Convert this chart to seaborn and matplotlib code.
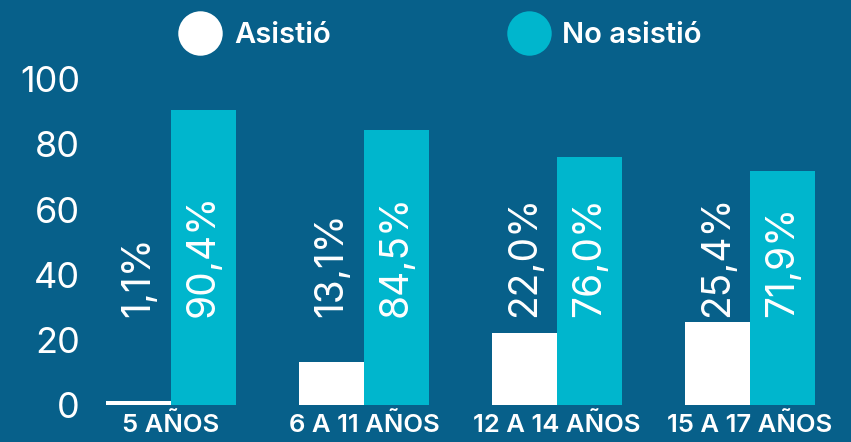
import matplotlib
matplotlib.use("Agg")
import matplotlib.pyplot as plt
from matplotlib.lines import Line2D
import seaborn as sns
import pandas as pd

categorias = ["5 AÑOS", "6 A 11 AÑOS", "12 A 14 AÑOS", "15 A 17 AÑOS"]
asistio = [1.1, 13.1, 22.0, 25.4]
no_asistio = [90.4, 84.5, 76.0, 71.9]
series = ["Asistió", "No asistió"]

fondo = "#07608a"
colores = {"Asistió": "#ffffff", "No asistió": "#00b6cd"}

sns.set_theme(style="white")
plt.rcParams["font.family"] = ["Inter", "DejaVu Sans"]

df = pd.DataFrame({
    "grupo": categorias * 2,
    "serie": [series[0]] * len(categorias) + [series[1]] * len(categorias),
    "valor": asistio + no_asistio,
})

fig = plt.figure(figsize=(8.51, 4.42), dpi=100, facecolor=fondo)
ax = fig.add_axes([0.0875, 0.0837, 0.9072, 0.774])
ax.set_facecolor(fondo)

sns.barplot(data=df, x="grupo", y="valor", hue="serie", hue_order=series,
            palette=colores, width=0.675, gap=0, legend=False,
            saturation=1, ax=ax, linewidth=0)

# etiquetas verticales de porcentaje
for cont, vals in zip(ax.containers, [asistio, no_asistio]):
    for barra, v in zip(cont, vals):
        x = barra.get_x() + barra.get_width() / 2
        ax.text(x, 27, f"{v:.1f}%".replace(".", ","), rotation=90,
                ha="center", va="bottom", color="white", fontsize=28)

ax.set_ylim(0, 105)
ax.set_yticks([0, 20, 40, 60, 80, 100])
ax.set_xlim(-0.5, len(categorias) - 0.5)
ax.set_xlabel("")
ax.set_ylabel("")
sns.despine(ax=ax, left=True, bottom=True)
ax.tick_params(axis="y", length=0, labelsize=26, labelcolor="white", pad=-4)
ax.tick_params(axis="x", length=0, labelsize=18.5, labelcolor="white", pad=6)
for t in ax.get_xticklabels():
    t.set_fontweight("semibold")

handles = [Line2D([], [], marker="o", linestyle="", markersize=32,
                  markerfacecolor=colores[s], markeredgewidth=0) for s in series]
fig.legend(handles, series, loc="center", bbox_to_anchor=(0.513, 0.92), ncol=2,
           frameon=False, labelcolor="white", handletextpad=0.15,
           columnspacing=5.8, prop={"weight": "semibold", "size": 21})

fig.savefig("out.png", dpi=100, facecolor=fondo)
